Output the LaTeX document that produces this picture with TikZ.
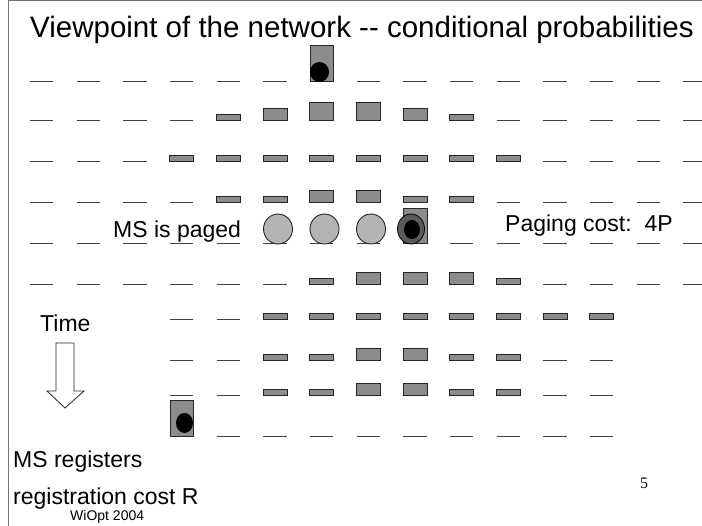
\documentclass[tikz,border=0pt]{standalone}
\usepackage{fontspec}
\setmainfont{Liberation Sans}
\newfontfamily\numfont{Liberation Serif}
\definecolor{bargray}{HTML}{8C8C8C}
\definecolor{ballgray}{HTML}{B4B4B4}
\definecolor{ringgray}{HTML}{5A5A5A}
\tikzset{
  slot/.style={draw=black!75, line width=0.9pt},
  bar/.style={draw=black!85, fill=bargray, line width=1pt},
  ball/.style={draw=black!85, fill=ballgray, line width=0.9pt},
  txt/.style={font=\fontsize{23}{26}\selectfont, inner sep=0pt, anchor=base west},
}

\begin{document}
\begin{tikzpicture}[x=1pt,y=-1pt]
  \useasboundingbox (0,0) rectangle (702,526);
  \draw[black!55, line width=1pt] (8,526) -- (8,1) -- (702,1);
  \node[txt, anchor=base, font=\fontsize{29.5}{32}\selectfont] (title) at (362,38) {Viewpoint of the network {-}{-} conditional probabilities};
  % 0 nothing, 1 slot, 2-4 bar of growing height
  \foreach \y/\row in {
      81/{1,1,1,1,1,1,0,1,1,1,1,1,1,1,1},
      120.5/{1,1,1,1,2,3,4,4,3,2,1,1,1,1,1},
      161.5/{1,1,1,2,2,2,2,2,2,2,2,1,1,1,1},
      202.5/{1,1,1,1,2,2,3,3,2,2,1,1,1,1,1},
      243.5/{1,1,1,1,1,1,1,1,0,1,1,1,1,1,1},
      284.5/{1,1,1,1,1,1,2,3,3,3,2,1,1,1,1},
      319.5/{0,0,0,1,1,2,2,2,2,2,2,2,2,0,0},
      360.5/{0,0,0,1,1,2,2,3,3,2,2,1,1,0,0},
      395.5/{0,0,0,1,1,2,2,3,3,2,2,1,1,0,0},
      436.5/{0,0,0,0,1,1,1,1,1,1,1,1,1,0,0}} {
    \foreach \k [count=\c from 0] in \row {
      \pgfmathsetmacro\xc{41.7+46.67*\c}
      \ifcase\k
      \or \draw[slot] (\xc-11.7,\y) -- (\xc+11.7,\y);
      \else \draw[bar] (\xc-12,\y) rectangle (\xc+12,\y-6.1*\k+6.1);
      \fi
    }
  }
  % mobile in its cell
  \draw[bar] (310,45.5) rectangle (333.5,81.5);
  \fill (319.5,72) ellipse (9.5 and 10);
  \draw[bar] (403,209) rectangle (427,244);
  \draw[black, fill=ringgray, line width=0.8pt] (411,229) ellipse (13.5 and 15);
  \fill (412,229.5) ellipse (8 and 9.5);
  \draw[bar] (170,401) rectangle (193,437);
  \fill (184.5,423) ellipse (8.5 and 10);
  % paged cells
  \foreach \xc in {278,324.5,371}
    \draw[ball] (\xc,229) ellipse (14.5 and 15);
  \node[txt] (paged) at (113,238) {MS is paged};
  \node[txt] (cost) at (505,232) {Paging cost:~~4P};
  \node[txt] (time) at (40,332) {Time};
  \draw[black!85, line width=0.8pt] (56,343) -- (74,343) -- (74,391) -- (84,391)
    -- (65,408) -- (47,391) -- (56,391) -- cycle;
  \node[txt] (registers) at (13,468) {MS registers};
  \node[txt] (regcost) at (13,504) {registration cost R};
  \node[txt, font=\fontsize{14}{16}\selectfont] (venue) at (70,521) {WiOpt 2004};
  \node[txt, font=\numfont\fontsize{16}{18}\selectfont] (pagenum) at (640,489) {5};
\end{tikzpicture}
\end{document}
